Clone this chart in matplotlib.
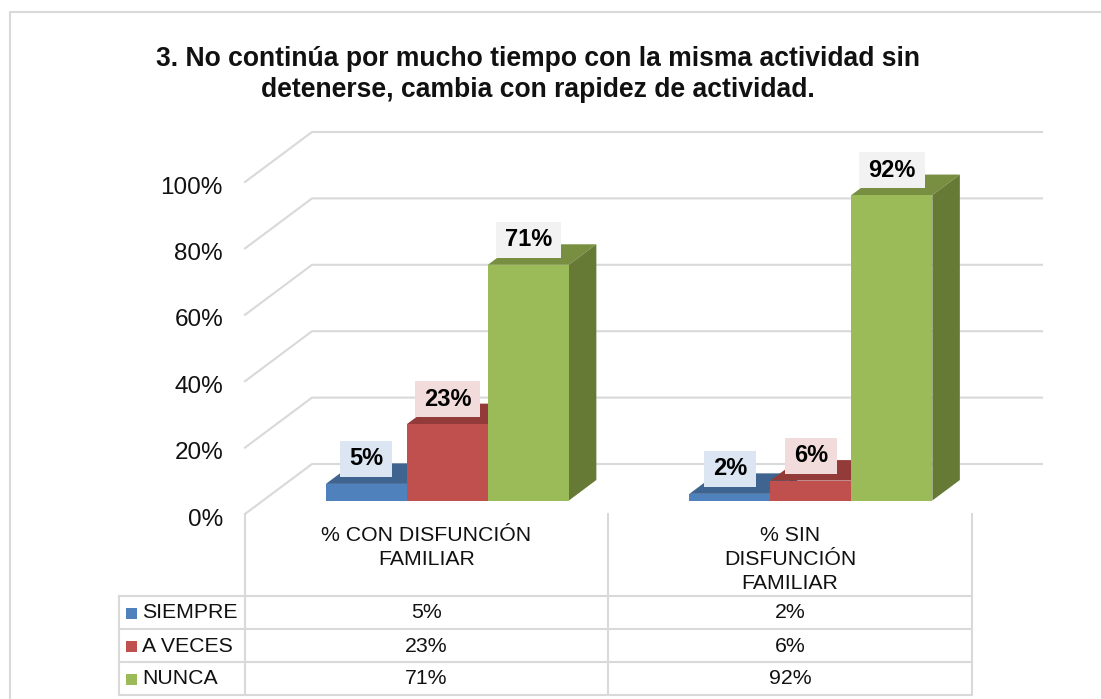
import numpy as np
import matplotlib
matplotlib.use('Agg')
import matplotlib.pyplot as plt
from matplotlib.patches import Polygon, Rectangle
from matplotlib.path import Path

plt.rcParams['font.family'] = ['Liberation Sans', 'DejaVu Sans']

# datos
titulo = '3. No continúa por mucho tiempo con la misma actividad sin\ndetenerse, cambia con rapidez de actividad.'
categorias = ['% CON DISFUNCIÓN\nFAMILIAR', '% SIN\nDISFUNCIÓN\nFAMILIAR']
series = ['SIEMPRE', 'A VECES', 'NUNCA']
siempre = [5, 2]
a_veces = [23, 6]
nunca = [71, 92]
ticks_y = [0, 20, 40, 60, 80, 100]

colores = ['#4F81BD', '#C0504D', '#9BBB59']
colores_top = ['#3E648F', '#933B39', '#788F42']
colores_lado = ['#335377', '#7A302F', '#667A36']
colores_label = ['#DCE6F2', '#F2DCDB', '#F2F2F2']
gris = '#D9D9D9'

W, H = 1101, 699
fig = plt.figure(figsize=(W / 100, H / 100), dpi=100)
fig.patch.set_facecolor('white')

# plano frontal: x 245-972 px, 0% en y=514 px, 100% en y=182 px
ax = fig.add_axes([245 / W, 1 - 514 / H, (972 - 245) / W, (514 - 182) / H])
ax.set_xlim(0, 2)
ax.set_ylim(0, 100)
ax.axis('off')

px_x = 2 / (972 - 245)   # unidades de categoria por pixel
px_y = 100 / 332         # % por pixel
prof_x = 67 * px_x       # desplazamiento de la pared del fondo
prof_y = 50 * px_y
z0, z1 = 0.27, 0.68      # profundidad de las barras
ancho = 81 * px_x


def p3d(x, y, z):
    return (x + z * prof_x, y + z * prof_y)


def caja_label(x0, y0, width, height, mutation_size):
    # caja mas ancha que alta, como las etiquetas del original
    pad_x, pad_y = 9.0, 6.5
    x0, x1 = x0 - pad_x, x0 + width + pad_x
    y0, y1 = y0 - pad_y, y0 + height + pad_y
    return Path([(x0, y0), (x1, y0), (x1, y1), (x0, y1), (x0, y0)], closed=True)


# rejilla
for t in ticks_y:
    xs = [0, prof_x, 2 + 70 * px_x]
    ys = [t, t + prof_y, t + prof_y]
    ax.plot(xs, ys, color=gris, lw=1.5, clip_on=False, zorder=1)
    ax.annotate(f'{t}%', (0, t), xytext=(-22 * 0.72, -5.5 * 0.72), textcoords='offset points',
                ha='right', va='center', fontsize=17.5, color='#111111', annotation_clip=False)

# barras
for i, valores in enumerate([siempre, a_veces, nunca]):
    for j, v in enumerate(valores):
        x0 = j + 0.5 + 0.007 + (i - 1.5) * ancho
        x1 = x0 + ancho
        cara = [p3d(x0, 0, z0), p3d(x1, 0, z0), p3d(x1, v, z0), p3d(x0, v, z0)]
        arriba = [p3d(x0, v, z0), p3d(x1, v, z0), p3d(x1, v, z1), p3d(x0, v, z1)]
        lado = [p3d(x1, 0, z0), p3d(x1, 0, z1), p3d(x1, v, z1), p3d(x1, v, z0)]
        orden = 3 + i + j * 4
        ax.add_patch(Polygon(arriba, fc=colores_top[i], ec='none', clip_on=False, zorder=orden))
        ax.add_patch(Polygon(lado, fc=colores_lado[i], ec='none', clip_on=False, zorder=orden))
        ax.add_patch(Polygon(cara, fc=colores[i], ec='none', clip_on=False, zorder=orden + 0.1))
        xt, yt = p3d((x0 + x1) / 2, v, z0)
        ax.annotate(f'{v}%', (xt, yt), xytext=(0, 25 * 0.72), textcoords='offset points',
                    ha='center', va='center', fontsize=17, fontweight='bold', color='black',
                    zorder=20, annotation_clip=False,
                    bbox=dict(boxstyle=caja_label, fc=colores_label[i], ec='none'))

# titulo
fig.text(538 / W, 1 - 74.5 / H, titulo, ha='center', va='center', fontsize=19.1,
         fontweight='bold', color='#111111', linespacing=1.24)

# tabla de datos
ax_t = fig.add_axes([0, 0, 1, 1])
ax_t.set_xlim(0, W)
ax_t.set_ylim(H, 0)
ax_t.axis('off')
ax_t.patch.set_alpha(0)

col_x = [245, 608, 972]
fila_y = [596, 629, 662, 695]
for x in col_x:
    ax_t.plot([x, x], [514, fila_y[-1]], color=gris, lw=1.5)
ax_t.plot([119, 119], [fila_y[0], fila_y[-1]], color=gris, lw=1.5)
for y in fila_y:
    ax_t.plot([119, col_x[-1]], [y, y], color=gris, lw=1.5)

for j, cat in enumerate(categorias):
    xc = (col_x[j] + col_x[j + 1]) / 2
    ax_t.text(xc, 526, cat, ha='center', va='top', fontsize=15.3, color='#111111', linespacing=1.32)

for i, (nombre, valores) in enumerate(zip(series, [siempre, a_veces, nunca])):
    yc = (fila_y[i] + fila_y[i + 1]) / 2
    ax_t.add_patch(Rectangle((126, yc - 5), 11, 11, fc=colores[i], ec='none'))
    ax_t.text(142, yc + 0.5, nombre, ha='left', va='center', fontsize=15.3, color='#111111')
    for j, v in enumerate(valores):
        xc = (col_x[j] + col_x[j + 1]) / 2
        ax_t.text(xc, yc + 0.5, f'{v}%', ha='center', va='center', fontsize=15.3, color='#111111')

# borde del grafico
ax_t.plot([10, 10, W], [H, 12, 12], color=gris, lw=1.5)

fig.savefig('out.png', dpi=100)
